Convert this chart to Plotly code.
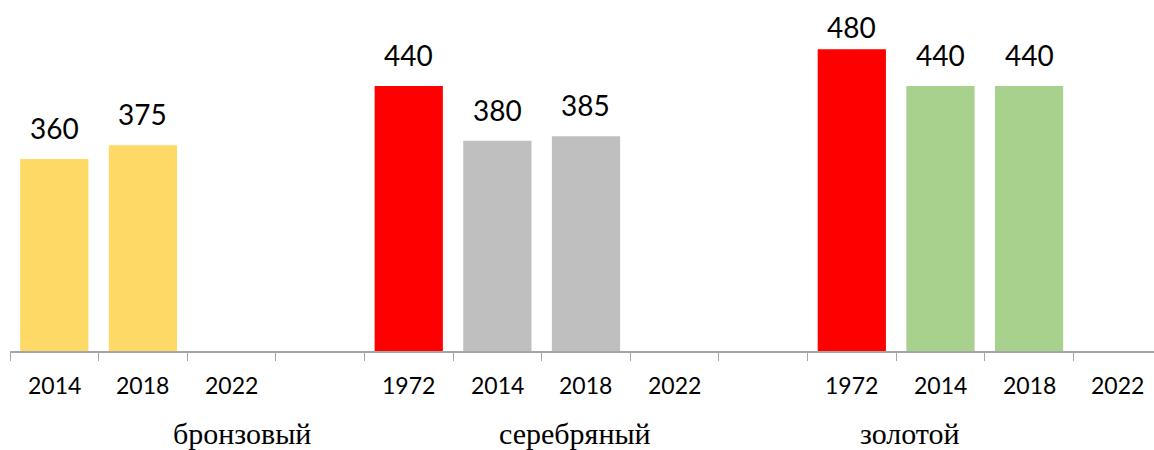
import plotly.graph_objects as go

# Medal groups, years per slot and bar heights (None = no bar in that slot)
groups = ["бронзовый", "серебряный", "золотой"]
years = ["2014", "2018", "2022", "",
         "1972", "2014", "2018", "2022", "",
         "1972", "2014", "2018", "2022"]
values = [360, 375, None, None,
          440, 380, 385, None, None,
          480, 440, 440, None]

# Styling
bar_colors = ["#FFD966", "#FFD966", "#FFD966", "#FFFFFF",
              "#FF0000", "#BFBFBF", "#BFBFBF", "#BFBFBF", "#FFFFFF",
              "#FF0000", "#A9D18E", "#A9D18E", "#A9D18E"]
group_label_x = [2.12, 5.88, 9.66]

Y_RANGE = [150, 534]
PLOT_H = 351  # pixel height of the plotting area
LABEL_OFFSET = 31  # px from bar top to value label centre
LABEL_MIN_TOP = 27  # keep value labels inside the figure

xs = list(range(len(years)))

fig = go.Figure(go.Bar(
    x=xs, y=values, marker=dict(color=bar_colors, line=dict(width=0)),
    width=0.77, hoverinfo="skip", showlegend=False,
))

px_per_unit = PLOT_H / (Y_RANGE[1] - Y_RANGE[0])

annotations = []
# value labels above bars
for x, v in zip(xs, values):
    if v is None:
        continue
    bar_top_px = (Y_RANGE[1] - v) * px_per_unit
    shift = min(LABEL_OFFSET, bar_top_px - LABEL_MIN_TOP)
    annotations.append(dict(
        x=x, y=v, xref="x", yref="y", text=str(v), showarrow=False,
        yanchor="middle", yshift=shift,
        font=dict(family="Lato", size=28, color="#000000"),
    ))
# year labels under the axis
for x, yr in zip(xs, years):
    if not yr:
        continue
    annotations.append(dict(
        x=x, y=-0.097, xref="x", yref="paper", text=yr, showarrow=False,
        yanchor="middle", font=dict(family="Lato", size=23, color="#000000"),
    ))
# medal group labels
for gx, g in zip(group_label_x, groups):
    annotations.append(dict(
        x=gx, y=-0.235, xref="x", yref="paper", text=g, showarrow=False,
        yanchor="middle",
        font=dict(family="Liberation Serif", size=30, color="#000000"),
    ))

fig.update_layout(
    width=1154, height=450,
    margin=dict(l=10, r=0, t=0, b=450 - PLOT_H),
    paper_bgcolor="white", plot_bgcolor="white",
    bargap=0.23,
    annotations=annotations,
    xaxis=dict(
        range=[-0.5, 12.41],
        tickvals=[i - 0.5 for i in range(len(years) + 1)],
        showticklabels=False,
        ticks="outside", ticklen=8, tickwidth=1.3, tickcolor="#A6A6A6",
        showline=True, linecolor="#A6A6A6", linewidth=1.5,
        showgrid=False, zeroline=False, fixedrange=True,
    ),
    yaxis=dict(
        range=Y_RANGE, visible=False, showgrid=False, zeroline=False,
        fixedrange=True,
    ),
)

fig.write_html("out.html", config={"displayModeBar": False})
